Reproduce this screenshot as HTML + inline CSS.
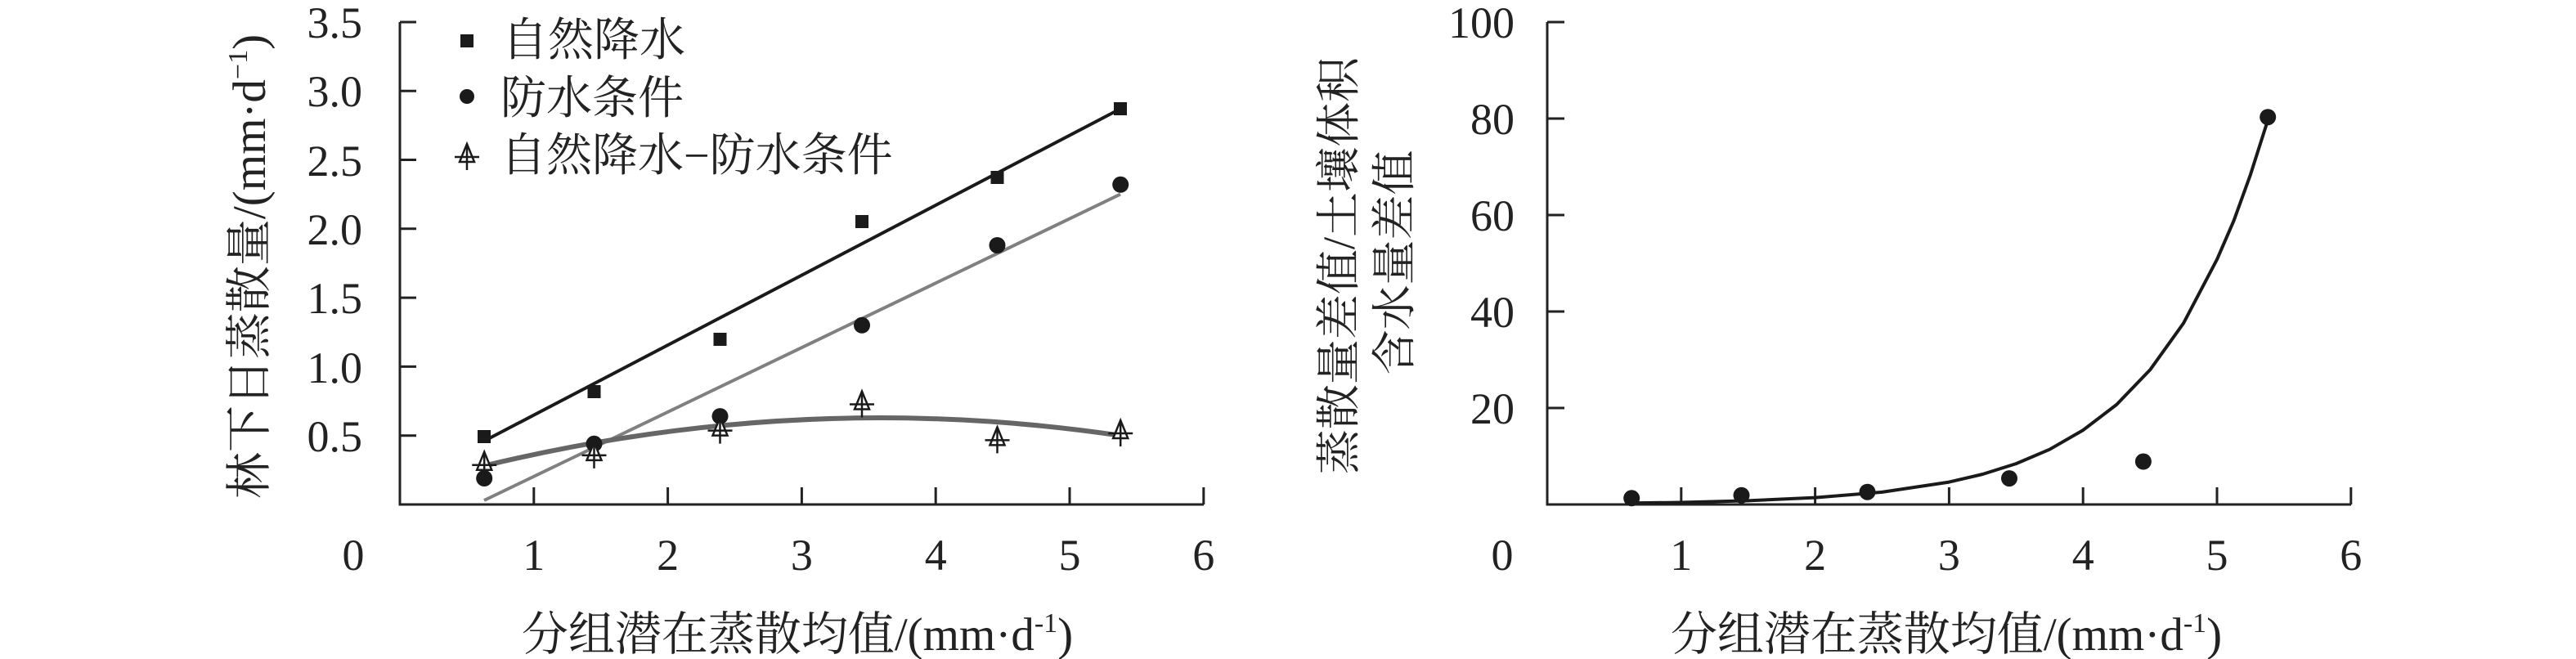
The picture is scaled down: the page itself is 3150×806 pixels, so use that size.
<!DOCTYPE html>
<html><head><meta charset="utf-8"><style>
html,body{margin:0;padding:0;background:#fff;}
svg{display:block;}
text{font-family:"Liberation Serif","Noto Serif CJK SC","Noto Sans CJK SC",serif;fill:#222;}
</style></head><body>
<svg width="3150" height="806" viewBox="0 0 3150 806" xmlns="http://www.w3.org/2000/svg">
<g stroke="#222" stroke-width="3" fill="none">
<path d="M489 27 V617 H1472"/>
<path d="M489 27 h20 M489 111.2 h20 M489 195.5 h20 M489 279.8 h20 M489 364.1 h20 M489 448.4 h20 M489 532.7 h20"/>
<path d="M652.8 617 v-21 M816.6 617 v-21 M980.4 617 v-21 M1144.2 617 v-21 M1308 617 v-21 M1471.8 617 v-21"/>
</g>
<g font-size="54" text-anchor="end">
<text x="443" y="46">3.5</text><text x="443" y="130">3.0</text><text x="443" y="215">2.5</text>
<text x="443" y="299">2.0</text><text x="443" y="383">1.5</text><text x="443" y="468">1.0</text><text x="443" y="552">0.5</text>
</g>
<g font-size="54" text-anchor="middle">
<text x="432" y="697">0</text><text x="652.8" y="697">1</text><text x="816.6" y="697">2</text><text x="980.4" y="697">3</text>
<text x="1144.2" y="697">4</text><text x="1308" y="697">5</text><text x="1471.8" y="697">6</text>
</g>
<text x="975" y="795" font-size="57" text-anchor="middle">分组潜在蒸散均值/(mm·d<tspan font-size="34" dy="-22">-1</tspan><tspan dy="22">)</tspan></text>
<text transform="translate(324,326) rotate(-90)" font-size="57" text-anchor="middle">林下日蒸散量/(mm·d<tspan font-size="34" dy="-22">−1</tspan><tspan dy="22">)</tspan></text>
<line x1="592" y1="539.4" x2="1370" y2="133.1" stroke="#1a1a1a" stroke-width="4"/>
<line x1="592" y1="612" x2="1370" y2="237.6" stroke="#808080" stroke-width="4"/>
<path d="M592 569.8 Q981.3 475.4 1370 532.7" stroke="#666" stroke-width="6" fill="none"/>
<g fill="#1a1a1a">
<rect x="584" y="526" width="16" height="16"/><rect x="718.5" y="471" width="16" height="16"/>
<rect x="872.5" y="407" width="16" height="16"/><rect x="1046" y="263" width="16" height="16"/>
<rect x="1211.5" y="209" width="16" height="16"/><rect x="1362" y="125" width="16" height="16"/>
<circle cx="592.2" cy="585" r="10"/><circle cx="726.5" cy="542.8" r="10"/><circle cx="880.5" cy="509.1" r="10"/>
<circle cx="1054" cy="397.8" r="10"/><circle cx="1219.5" cy="300" r="10"/><circle cx="1370.2" cy="225.8" r="10"/>
</g>
<defs><g id="tri" stroke="#1a1a1a" stroke-width="2.5" fill="#fff"><path d="M0 -12 L-9 10 H9 Z"/><path d="M-15 4 H15 M0 -12 V20" fill="none"/></g></defs>
<use href="#tri" x="592.2" y="564.7"/><use href="#tri" x="726.5" y="552.9"/><use href="#tri" x="880.5" y="522.6"/>
<use href="#tri" x="1054" y="490.5"/><use href="#tri" x="1219.5" y="534.4"/><use href="#tri" x="1370.2" y="526"/>
<rect x="563" y="42" width="16" height="16" fill="#1a1a1a"/>
<circle cx="571" cy="118" r="9" fill="#1a1a1a"/>
<use href="#tri" x="571" y="188"/>
<g font-size="56"><text x="614" y="68">自然降水</text><text x="612" y="139">防水条件</text><text x="612" y="209">自然降水−防水条件</text></g>

<g stroke="#222" stroke-width="3" fill="none">
<path d="M1892 27 V617 H2875"/>
<path d="M1892 27 h21 M1892 145 h21 M1892 263 h21 M1892 381 h21 M1892 499 h21"/>
<path d="M2055.8 617 v-21 M2219.6 617 v-21 M2383.4 617 v-21 M2547.2 617 v-21 M2711 617 v-21 M2874.8 617 v-21"/>
</g>
<g font-size="54" text-anchor="end">
<text x="1852" y="46">100</text><text x="1852" y="164">80</text><text x="1852" y="282">60</text>
<text x="1852" y="400">40</text><text x="1852" y="518">20</text>
</g>
<g font-size="54" text-anchor="middle">
<text x="1837" y="697">0</text><text x="2055.8" y="697">1</text><text x="2219.6" y="697">2</text><text x="2383.4" y="697">3</text>
<text x="2547.2" y="697">4</text><text x="2711" y="697">5</text><text x="2874.8" y="697">6</text>
</g>
<text x="2380" y="795" font-size="57" text-anchor="middle">分组潜在蒸散均值/(mm·d<tspan font-size="34" dy="-22">-1</tspan><tspan dy="22">)</tspan></text>
<text transform="translate(1656,325) rotate(-90)" font-size="55" text-anchor="middle">蒸散量差值/土壤体积</text>
<text transform="translate(1724,321) rotate(-90)" font-size="55" text-anchor="middle">含水量差值</text>
<polyline points="1995.2,615.3 2055.8,614.5 2137.7,612.4 2219.6,608.6 2301.5,601.9 2383.4,589.6 2424.4,580 2465.3,567.1 2506.3,549.7 2547.2,526.1 2588.2,494.9 2629.1,452.4 2670.1,395.2 2711,317.3 2731.5,270.1 2752,213.4 2773.2,146.8" stroke="#1a1a1a" stroke-width="4" fill="none" stroke-linejoin="round"/>
<g fill="#1a1a1a">
<circle cx="1995.2" cy="609.3" r="10"/><circle cx="2129.5" cy="605.8" r="10"/><circle cx="2283.5" cy="601.7" r="10"/>
<circle cx="2457" cy="585.1" r="10"/><circle cx="2620.9" cy="564.5" r="10"/><circle cx="2773.2" cy="143.2" r="10"/>
</g>
</svg>
</body></html>
